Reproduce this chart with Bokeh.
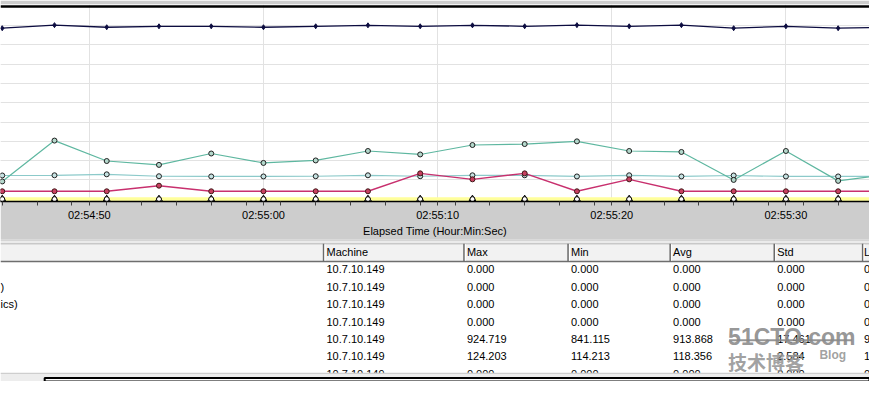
from bokeh.plotting import figure
from bokeh.models import Range1d, FixedTicker, Span, Grid, ColumnDataSource
from bokeh.layouts import column
from bokeh.embed import file_html
from bokeh.resources import INLINE
from bokeh.core.properties import value

# ---------------- data ----------------
times = ["02:54:45", "02:54:48", "02:54:51", "02:54:54", "02:54:57", "02:55:00",
         "02:55:03", "02:55:06", "02:55:09", "02:55:12", "02:55:15", "02:55:18",
         "02:55:21", "02:55:24", "02:55:27", "02:55:30", "02:55:33", "02:55:36"]
navy_vals = [8.87, 9.03, 8.92, 8.97, 8.97, 8.92, 8.97, 9.02, 8.97, 9.02,
             8.97, 9.03, 8.97, 9.03, 8.87, 8.97, 8.87, 8.92]
teal_vals = [0.92, 3.04, 1.98, 1.78, 2.37, 1.88, 2.01, 2.50, 2.32, 2.81,
             2.86, 3.00, 2.50, 2.45, 1.00, 2.50, 0.95, 1.31]
aqua_vals = [1.23, 1.24, 1.29, 1.19, 1.18, 1.18, 1.19, 1.24, 1.19, 1.24,
             1.24, 1.18, 1.24, 1.18, 1.23, 1.18, 1.18, 1.18]
crimson_vals = [0.41, 0.41, 0.41, 0.70, 0.41, 0.41, 0.41, 0.41, 1.34, 1.03,
                1.34, 0.41, 1.03, 0.41, 0.41, 0.41, 0.41, 0.41]
zero_vals = [0.0, 0.0, 0.0, 0.0, 0.0, 0.0, 0.0, 0.0, 0.0, 0.0,
             0.0, 0.0, 0.0, 0.0, 0.0, 0.0, 0.0, 0.0]
tick_labels = ["02:54:50", "02:55:00", "02:55:10", "02:55:20", "02:55:30"]
view_start, view_end = "02:54:44.9", "02:55:34.8"
x_title = "Elapsed Time (Hour:Min:Sec)"

# table (only the visible part of the window: first and last columns are cut by the frame)
headers = ["", "Machine", "Max", "Min", "Avg", "Std", "L"]
names = ["", ")", "ics)", "", "", "", ""]
machines = ["10.7.10.149", "10.7.10.149", "10.7.10.149", "10.7.10.149",
            "10.7.10.149", "10.7.10.149", "10.7.10.149"]
max_vals = ["0.000", "0.000", "0.000", "0.000", "924.719", "124.203", "0.000"]
min_vals = ["0.000", "0.000", "0.000", "0.000", "841.115", "114.213", "0.000"]
avg_vals = ["0.000", "0.000", "0.000", "0.000", "913.868", "118.356", "0.000"]
std_vals = ["0.000", "0.000", "0.000", "0.000", "17.461", "2.584", "0.000"]
last_vals = ["0", "0", "0", "0", "9", "1", "0"]


def secs(t):
    h, m, s = t.split(":")
    return int(h) * 3600 + int(m) * 60 + float(s)


x = [secs(t) for t in times]
major = [secs(t) for t in tick_labels]
minor = [float(v) for v in range(int(secs(view_start)) - 1, int(secs(view_end)) + 3, 2)]

FONT = "Liberation Sans"

# ---------------- chart ----------------
p = figure(width=869, height=239, output_backend="svg", toolbar_location=None,
           x_range=Range1d(secs(view_start), secs(view_end)),
           y_range=Range1d(-0.12, 10.1), y_axis_location=None,
           min_border_left=0, min_border_right=0, min_border_top=4, min_border_bottom=37,
           border_fill_color="#cdcdcd", background_fill_color="white",
           outline_line_color=None)

p.xgrid.ticker = FixedTicker(ticks=major)
p.xgrid.grid_line_color = "#e2e2e2"
p.add_layout(Grid(dimension=1, ticker=FixedTicker(ticks=[1, 2, 3, 4, 5, 6, 7, 8, 9, 10]),
                  grid_line_color="#e2e2e2"))

ax = p.xaxis[0]
ax.ticker = FixedTicker(ticks=major, minor_ticks=minor)
ax.major_label_overrides = {m: lab for m, lab in zip(major, tick_labels)}
ax.axis_line_color = "black"
ax.axis_line_width = 1.5
ax.major_tick_out = 4
ax.major_tick_in = 0
ax.minor_tick_out = 4
ax.minor_tick_in = 0
ax.major_tick_line_color = "#404040"
ax.minor_tick_line_color = "#404040"
ax.major_label_standoff = 3
ax.major_label_text_font = FONT
ax.major_label_text_font_size = "11px"
ax.major_label_text_color = "black"
ax.axis_label = x_title
ax.axis_label_text_font = FONT
ax.axis_label_text_font_size = "11px"
ax.axis_label_text_font_style = "normal"
ax.axis_label_text_color = "black"
ax.axis_label_standoff = 1

p.add_layout(Span(location=10.0, dimension="width", line_color="black", line_width=2.5))

src = ColumnDataSource(dict(x=x, navy=navy_vals, teal=teal_vals, aqua=aqua_vals,
                            crimson=crimson_vals, zero=zero_vals))

p.line("x", "zero", source=src, line_color="#ffff9c", line_width=4)
p.line("x", "aqua", source=src, line_color="#8ccaca", line_width=1.2)
p.line("x", "teal", source=src, line_color="#5eb7a0", line_width=1.2)
p.line("x", "crimson", source=src, line_color="#c8306e", line_width=1.4)
p.line("x", "navy", source=src, line_color="#0c0c40", line_width=1.3)

p.scatter("x", "zero", source=src, marker="triangle", size=7,
          fill_color="white", line_color="black", line_width=1)
p.scatter("x", "zero", source=src, marker="circle", size=5,
          fill_color="white", line_color="black", line_width=1)
p.scatter("x", "aqua", source=src, marker="circle", size=5,
          fill_color="#c6e2e2", line_color="#202020", line_width=1)
p.scatter("x", "teal", source=src, marker="circle", size=5,
          fill_color="#b4d8cc", line_color="#202020", line_width=1)
p.scatter("x", "crimson", source=src, marker="circle", size=5,
          fill_color="#c84060", line_color="#401818", line_width=1)
p.scatter("x", "navy", source=src, marker="diamond", size=5,
          fill_color="#0c0c40", line_color="#0c0c40")

# ---------------- table ----------------
t = figure(width=869, height=142, output_backend="svg", toolbar_location=None,
           x_range=Range1d(0, 885), y_range=Range1d(397, 249),
           x_axis_location=None, y_axis_location=None, min_border=0,
           outline_line_color=None, background_fill_color="white",
           border_fill_color="white")
t.grid.visible = False

col_x = [0, 329, 472, 578, 682, 788, 878]
row_y0, row_h = 280.0, 18.17
header_y = 262.5

t.quad(left=[0], right=[885], top=[249], bottom=[253], fill_color="#ebebeb", line_color=None)
t.quad(left=[0], right=[885], top=[253], bottom=[272], fill_color="#f2f2f2", line_color=None)
t.segment(x0=[0], x1=[885], y0=[249.3], y1=[249.3], line_color="#a0a0a0", line_width=1)
t.segment(x0=[0], x1=[885], y0=[253.5], y1=[253.5], line_color="#b4b4b4", line_width=1)
t.segment(x0=[0], x1=[885], y0=[272], y1=[272], line_color="#6e6e6e", line_width=1.5)
t.segment(x0=col_x[1:], x1=col_x[1:], y0=[253.5] * 6, y1=[272] * 6,
          line_color="#6a6a6a", line_width=1.5)
t.segment(x0=[c + 1.5 for c in col_x[1:]], x1=[c + 1.5 for c in col_x[1:]],
          y0=[254] * 6, y1=[271] * 6, line_color="white", line_width=1)

text_x = [c + 3.0 for c in col_x]
text_x[0] = 0
text_x[-1] = col_x[-1] + 1.5

t.text(x=text_x, y=[header_y] * 7, text=headers,
       text_font=value(FONT), text_font_size="11px", text_color="black",
       text_baseline="middle", text_align="left")

cols = [names, machines, max_vals, min_vals, avg_vals, std_vals, last_vals]
for i, vals in enumerate(cols):
    xs = [text_x[i]] * len(vals)
    ys = [row_y0 + k * row_h for k in range(len(vals))]
    t.text(x=xs, y=ys, text=vals, text_font=value(FONT), text_font_size="11px",
           text_color="black", text_baseline="middle", text_align="left")

# table bottom edge / scroll region
t.quad(left=[0], right=[885], top=[388], bottom=[397], fill_color="#ededed", line_color=None)
t.segment(x0=[0], x1=[885], y0=[388.5], y1=[388.5], line_color="#c8c8c8", line_width=1)
t.quad(left=[45], right=[885], top=[393.3], bottom=[397], fill_color="white",
       line_color="black", line_width=2)

# watermark
t.text(x=[741], y=[351], text=["51CTO.com"], text_font=value(FONT),
       text_font_style="bold", text_font_size="23px", text_color="#8a8a8a",
       text_alpha=0.9, text_baseline="alphabetic", text_align="left")
t.segment(x0=[742], x1=[867], y0=[354], y1=[354], line_color="#8a8a8a", line_width=2, line_alpha=0.9)
t.text(x=[741], y=[376], text=["技术博客"], text_font=value("Noto Sans CJK SC"),
       text_font_style="bold", text_font_size="19px", text_color="#959595",
       text_alpha=0.9, text_baseline="alphabetic", text_align="left")
t.text(x=[834], y=[369], text=["Blog"], text_font=value(FONT),
       text_font_style="bold", text_font_size="12px", text_color="#959595",
       text_alpha=0.9, text_baseline="alphabetic", text_align="left")

layout = column(p, t, spacing=0)
open("out.html", "w").write(file_html(layout, INLINE))
